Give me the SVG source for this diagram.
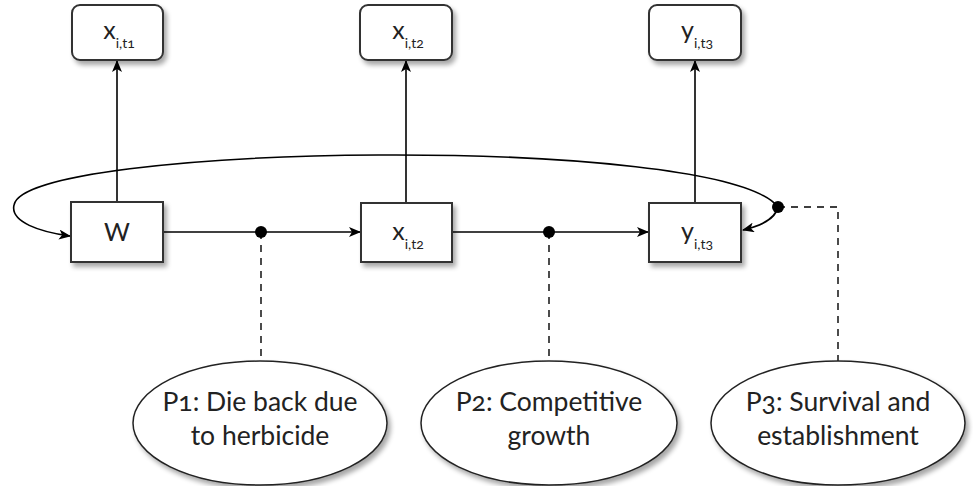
<svg xmlns="http://www.w3.org/2000/svg" width="973" height="486" viewBox="0 0 973 486">
<defs>
<filter id="sh" x="-20%" y="-20%" width="150%" height="150%">
<feGaussianBlur in="SourceAlpha" stdDeviation="2.5"/>
<feOffset dx="3" dy="4" result="b"/>
<feComponentTransfer><feFuncA type="linear" slope="0.35"/></feComponentTransfer>
<feMerge><feMergeNode/><feMergeNode in="SourceGraphic"/></feMerge>
</filter>
<marker id="ah" viewBox="0 0 12 10" refX="11" refY="5" markerWidth="12" markerHeight="10" markerUnits="userSpaceOnUse" orient="auto">
<path d="M0,0 L12,5 L0,10 L3,5 Z" fill="#000"/>
</marker>
</defs>
<style>
.box{fill:#fff;stroke:#333;stroke-width:2}
.ell{fill:#fff;stroke:#222;stroke-width:1.5}
.ln{fill:none;stroke:#000;stroke-width:1.6}
.ar{fill:none;stroke:#000;stroke-width:1.6;marker-end:url(#ah)}
.da{fill:none;stroke:#000;stroke-width:1.4;stroke-dasharray:7,6}
.t{font-family:Lato,"Open Sans","Liberation Sans",sans-serif;font-size:25px;fill:#222;text-anchor:middle;font-variant-numeric:oldstyle-nums}
.s{font-size:14px}
.e{font-family:Lato,"Open Sans","Liberation Sans",sans-serif;font-size:26.5px;fill:#222;text-anchor:middle;font-variant-numeric:oldstyle-nums}
</style>
<g id="connectors">
<path class="ar" d="M117,202 L117,61"/>
<path class="ar" d="M406,203 L406,61"/>
<path class="ar" d="M695,203 L695,61"/>
<path class="ar" d="M163,232 L360,232"/>
<path class="ar" d="M452,232 L648,232"/>
<path class="ar" d="M778,207 C720,133 25,143 14,205 C10,222 40,232 70,236"/>
<path class="ar" d="M778,207 C775,220 760,226 743,230"/>
<path class="da" d="M261,232 L261,361"/>
<path class="da" d="M549,232 L549,361"/>
<path class="da" d="M778,207 L838,207 L838,361"/>
<circle cx="261" cy="232" r="6" fill="#000"/>
<circle cx="549" cy="232" r="6" fill="#000"/>
<circle cx="778" cy="207" r="6" fill="#000"/>
</g>
<g id="top1"><rect class="box" x="72" y="5" width="91" height="55" rx="8" filter="url(#sh)"/><text class="t" x="119" y="39">x<tspan class="s" dy="9">i,t1</tspan></text></g>
<g id="top2"><rect class="box" x="360" y="5" width="92" height="55" rx="8" filter="url(#sh)"/><text class="t" x="408" y="39">x<tspan class="s" dy="9">i,t2</tspan></text></g>
<g id="top3"><rect class="box" x="649" y="5" width="92" height="55" rx="8" filter="url(#sh)"/><text class="t" x="697" y="39">y<tspan class="s" dy="9">i,t3</tspan></text></g>
<g id="W"><rect class="box" x="71" y="202" width="92" height="60" filter="url(#sh)"/><text class="t" x="117" y="241">W</text></g>
<g id="x2"><rect class="box" x="361" y="203" width="91" height="59" filter="url(#sh)"/><text class="t" x="408" y="240">x<tspan class="s" dy="9">i,t2</tspan></text></g>
<g id="y3"><rect class="box" x="649" y="203" width="92" height="59" filter="url(#sh)"/><text class="t" x="697" y="240">y<tspan class="s" dy="9">i,t3</tspan></text></g>
<g id="P1"><ellipse class="ell" cx="260" cy="423" rx="127" ry="62" filter="url(#sh)"/><text class="e" x="260" y="411">P1: Die back due</text><text class="e" x="260" y="445">to herbicide</text></g>
<g id="P2"><ellipse class="ell" cx="549" cy="423" rx="128" ry="62" filter="url(#sh)"/><text class="e" x="549" y="411">P2: Competitive</text><text class="e" x="549" y="445">growth</text></g>
<g id="P3"><ellipse class="ell" cx="838" cy="423" rx="127" ry="62" filter="url(#sh)"/><text class="e" x="838" y="411">P3: Survival and</text><text class="e" x="838" y="445">establishment</text></g>
</svg>
